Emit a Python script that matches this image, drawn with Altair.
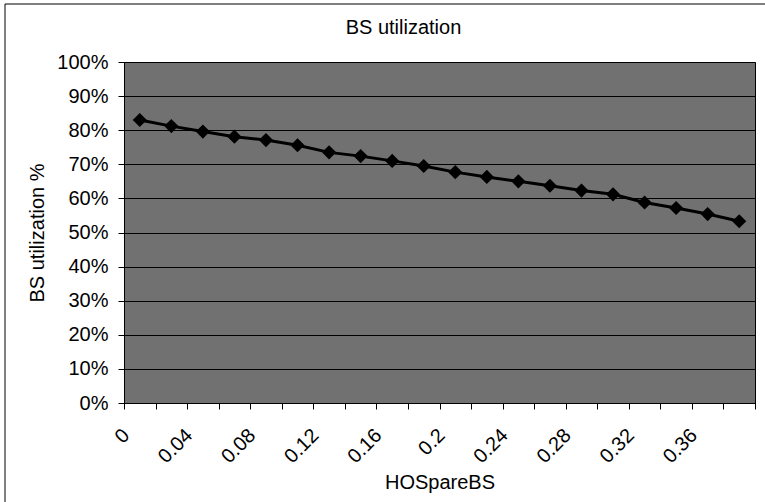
import json

import altair as alt
import pandas as pd

# HOSpareBS categories and the measured BS utilization for each
hospare = ["0", "0.02", "0.04", "0.06", "0.08", "0.1", "0.12", "0.14", "0.16", "0.18",
           "0.2", "0.22", "0.24", "0.26", "0.28", "0.3", "0.32", "0.34", "0.36", "0.38"]
utilization = [0.830, 0.812, 0.796, 0.781, 0.771, 0.756, 0.735, 0.724, 0.710, 0.695,
               0.677, 0.663, 0.650, 0.637, 0.623, 0.612, 0.588, 0.572, 0.554, 0.533]
# only every other category carries a label on the x axis
shown_labels = ["0", "0.04", "0.08", "0.12", "0.16", "0.2", "0.24", "0.28", "0.32", "0.36"]

FONT = "Liberation Sans"

df = pd.DataFrame({"hospare": hospare, "utilization": utilization})

label_expr = "indexof(%s, datum.value) >= 0 ? datum.label : ''" % json.dumps(shown_labels)

x_enc = alt.X(
    "hospare:O",
    sort=hospare,
    scale=alt.Scale(type="band", paddingInner=0, paddingOuter=0),
    axis=alt.Axis(
        title="HOSpareBS",
        labelExpr=label_expr,
        labelAngle=-45,
        labelAlign="right",
        labelBaseline="middle",
        labelOffset=-14,
        labelPadding=23,
        labelFontSize=20,
        labelColor="black",
        tickBand="extent",
        tickSize=6,
        tickColor="black",
        domainColor="black",
        grid=False,
        titleFontSize=20,
        titleFontWeight="normal",
        titleColor="black",
        titleBaseline="alphabetic",
        titleY=85,
    ),
)

y_enc = alt.Y(
    "utilization:Q",
    scale=alt.Scale(domain=[0, 1], nice=False, zero=True),
    axis=alt.Axis(
        title="BS utilization %",
        format=".0%",
        values=[i / 10 for i in range(11)],
        labelFontSize=20,
        labelColor="black",
        labelPadding=10,
        tickSize=6,
        tickColor="black",
        domainColor="black",
        grid=True,
        gridColor="black",
        gridOpacity=1,
        gridWidth=1,
        titleFontSize=20,
        titleFontWeight="normal",
        titleColor="black",
        titleBaseline="alphabetic",
        titleAngle=-90,
        titleAlign="center",
        titleX=-81,
        titleY=170.5,
    ),
)

base = alt.Chart(df).encode(x=x_enc, y=y_enc)

line = base.mark_line(color="black", strokeWidth=3)
points = base.mark_point(shape="diamond", filled=True, color="black", size=200, opacity=1)

# thin frame along the top and left of the chart object
edge = pd.DataFrame({"edge": [0]})
frame_top = alt.Chart(edge).mark_rule(color="black", strokeWidth=1).encode(
    x=alt.value(-119), x2=alt.value(641), y=alt.value(-58)
)
frame_left = alt.Chart(edge).mark_rule(color="black", strokeWidth=1).encode(
    x=alt.value(-119), y=alt.value(-58), y2=alt.value(440)
)

chart = (
    alt.layer(line, points, frame_top, frame_left)
    .properties(
        width=631,
        height=341,
        autosize=alt.AutoSizeParams(type="none"),
        padding={"left": 124, "top": 62, "right": 10, "bottom": 99},
        background="white",
        title=alt.TitleParams(
            "BS utilization",
            fontSize=20,
            fontWeight="normal",
            font=FONT,
            color="black",
            anchor="middle",
            baseline="alphabetic",
            offset=-50,
            dx=-36,
        ),
    )
    .configure(font=FONT)
    .configure_view(fill="#717171", stroke="black", strokeWidth=1)
)

chart.save("out.html", embed_options={"renderer": "svg", "actions": False})
